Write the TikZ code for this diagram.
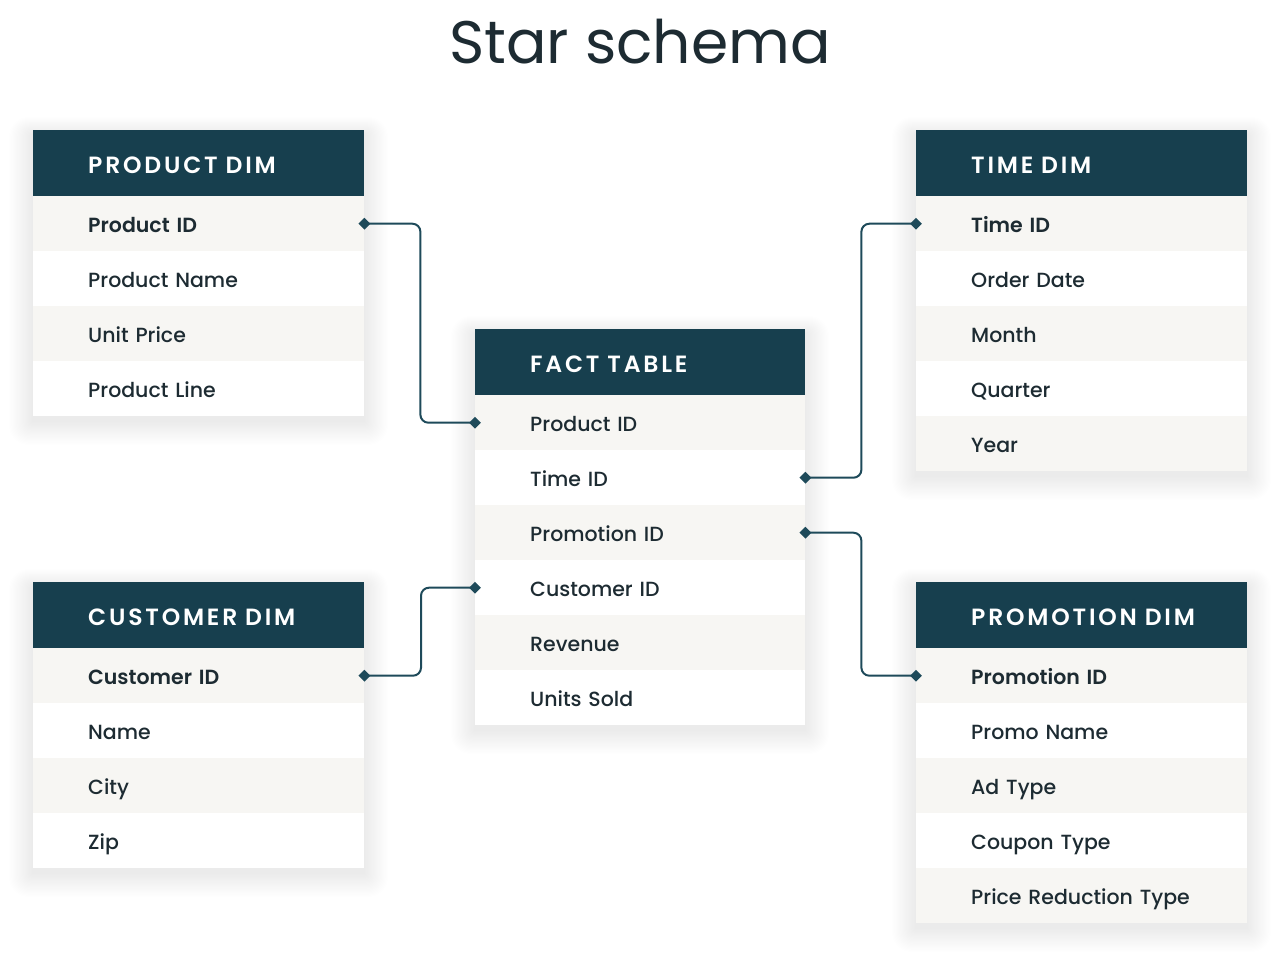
\documentclass[tikz,border=0pt]{standalone}
\usepackage{fontspec}
\setmainfont{Poppins}[UprightFont={* Medium}, BoldFont={* SemiBold}]
\newfontfamily\titlefont{Poppins}
\usetikzlibrary{shapes.geometric}
\definecolor{hdr}{HTML}{173F4E}
\definecolor{rowgray}{HTML}{F7F6F3}
\definecolor{ink}{HTML}{1D2B32}
\definecolor{conncol}{HTML}{1E4A5A}
\tikzset{
  hdrbox/.style={fill=hdr, text=white, anchor=north west, minimum height=66pt,
    text width=221pt, inner xsep=55pt, inner ysep=0pt, align=left,
    text height=21pt, text depth=0pt,
    font=\fontsize{23.5}{26}\selectfont\bfseries\addfontfeature{LetterSpace=12}},
  rowbox/.style={anchor=north west, minimum height=55pt, text width=221pt,
    inner xsep=55pt, inner ysep=0pt, align=left, text=ink,
    text height=18pt, text depth=0pt,
    font=\fontsize{20.5}{24}\selectfont},
  ra/.style={rowbox, fill=rowgray},
  rb/.style={rowbox, fill=white},
  keyrow/.style={font=\fontsize{20.5}{24}\selectfont\bfseries},
  connline/.style={draw=conncol, line width=2pt, rounded corners=8pt},
  dmd/.style={diamond, fill=conncol, inner sep=0pt, minimum size=12pt},
}
\newcommand{\softshadow}[4]{%
  \foreach \k in {1,...,20}{%
    \fill[black, opacity=0.0045, rounded corners=\k pt]
      (#1-\k*1.2, #2-\k*0.9+5) rectangle (#3+\k*1.2, #4+\k*1.2+5);
  }%
}
\begin{document}
\begin{tikzpicture}[x=1pt,y=-1pt]
\useasboundingbox[fill=white] (0,0) rectangle (1280,962);
\node[font=\fontsize{60}{70}\selectfont\titlefont, text=ink] (title) at (640,42) {Star schema};

% shadows
\softshadow{33}{130}{364}{416}
\softshadow{916}{130}{1247}{471}
\softshadow{475}{329}{805}{725}
\softshadow{33}{582}{364}{868}
\softshadow{916}{582}{1247}{923}

% product dim
\node[hdrbox] (ph) at (33,130) {\mbox{PRODUCT DIM}};
\node[ra,keyrow] (pd1) at (33,196) {Product ID};
\node[rb] (pd2) at (33,251) {Product Name};
\node[ra] (pd3) at (33,306) {Unit Price};
\node[rb] (pd4) at (33,361) {Product Line};

% time dim
\node[hdrbox] (th) at (916,130) {\mbox{TIME DIM}};
\node[ra,keyrow] (td1) at (916,196) {Time ID};
\node[rb] (td2) at (916,251) {Order Date};
\node[ra] (td3) at (916,306) {Month};
\node[rb] (td4) at (916,361) {Quarter};
\node[ra] (td5) at (916,416) {Year};

% fact table
\node[hdrbox, text width=220pt] (fh) at (475,329) {\mbox{FACT TABLE}};
\node[ra, text width=220pt] (ft1) at (475,395) {Product ID};
\node[rb, text width=220pt] (ft2) at (475,450) {Time ID};
\node[ra, text width=220pt] (ft3) at (475,505) {Promotion ID};
\node[rb, text width=220pt] (ft4) at (475,560) {Customer ID};
\node[ra, text width=220pt] (ft5) at (475,615) {Revenue};
\node[rb, text width=220pt] (ft6) at (475,670) {Units Sold};

% customer dim
\node[hdrbox] (ch) at (33,582) {\mbox{CUSTOMER DIM}};
\node[ra,keyrow] (cd1) at (33,648) {Customer ID};
\node[rb] (cd2) at (33,703) {Name};
\node[ra] (cd3) at (33,758) {City};
\node[rb] (cd4) at (33,813) {Zip};

% promotion dim
\node[hdrbox] (prh) at (916,582) {\mbox{PROMOTION DIM}};
\node[ra,keyrow] (pr1) at (916,648) {Promotion ID};
\node[rb] (pr2) at (916,703) {Promo Name};
\node[ra] (pr3) at (916,758) {Ad Type};
\node[rb] (pr4) at (916,813) {Coupon Type};
\node[ra] (pr5) at (916,868) {Price Reduction Type};

% connectors
\draw[connline] (pd1.east) -- ++(56,0) |- (ft1.west);
\draw[connline] (ft2.east) -- ++(56,0) |- (td1.west);
\draw[connline] (ft3.east) -- ++(56,0) |- (pr1.west);
\draw[connline] (ft4.west) -- ++(-54,0) |- (cd1.east);

\node[dmd] (m1) at (pd1.east) {};
\node[dmd] (m2) at (ft1.west) {};
\node[dmd] (m3) at (ft2.east) {};
\node[dmd] (m4) at (td1.west) {};
\node[dmd] (m5) at (ft3.east) {};
\node[dmd] (m6) at (pr1.west) {};
\node[dmd] (m7) at (ft4.west) {};
\node[dmd] (m8) at (cd1.east) {};
\end{tikzpicture}
\end{document}
